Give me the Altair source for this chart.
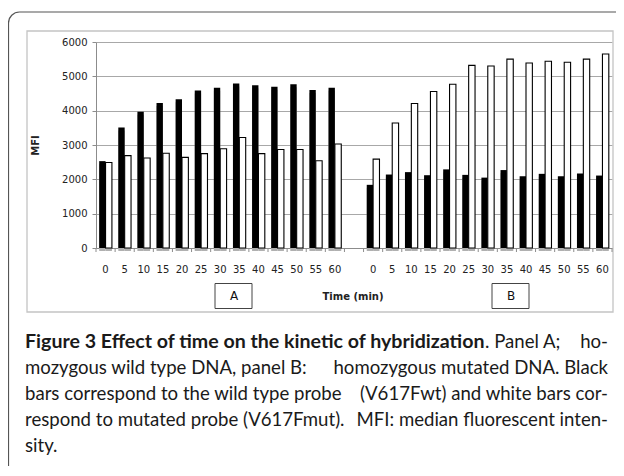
import altair as alt
import pandas as pd

# ---- data ----
times = [0, 5, 10, 15, 20, 25, 30, 35, 40, 45, 50, 55, 60]
panel_a_wt = [2530, 3510, 3970, 4220, 4330, 4590, 4670, 4790, 4740, 4700, 4770, 4600, 4670]
panel_a_mut = [2490, 2690, 2620, 2760, 2640, 2750, 2890, 3220, 2750, 2870, 2870, 2540, 3030]
panel_b_wt = [1840, 2140, 2210, 2120, 2290, 2130, 2050, 2270, 2090, 2160, 2090, 2170, 2110]
panel_b_mut = [2590, 3640, 4210, 4560, 4770, 5320, 5300, 5500, 5390, 5440, 5410, 5500, 5650]
y_ticks = [0, 1000, 2000, 3000, 4000, 5000, 6000]
probes = ["wt", "mut"]

caption_bold = "Figure 3 Effect of time on the kinetic of hybridization"
caption_after_bold = ". Panel A;"
caption_lines = [
    ("", "ho-"),
    ("mozygous wild type DNA, panel B:", "homozygous mutated DNA. Black"),
    ("bars correspond to the wild type probe", "(V617Fwt) and white bars cor-"),
    ("respond to mutated probe (V617Fmut).", "MFI: median fluorescent inten-"),
    ("sity.", ""),
]

rows = []
for panel, wt, mut in (("A", panel_a_wt, panel_a_mut), ("B", panel_b_wt, panel_b_mut)):
    for t, w, m in zip(times, wt, mut):
        rows.append({"cat": f"{panel} {t}", "probe": "wt", "mfi": w})
        rows.append({"cat": f"{panel} {t}", "probe": "mut", "mfi": m})
df = pd.DataFrame(rows)
domain = [f"A {t}" for t in times] + ["-"] + [f"B {t}" for t in times]
tick_df = pd.DataFrame({"cat": domain})
last_df = pd.DataFrame({"cat": [domain[-1]]})

W, H = 516, 206
AXIS_GRAY = "#8c8c8c"

x_scale = alt.Scale(domain=domain, paddingInner=0, paddingOuter=0)
x_axis = alt.Axis(
    labelExpr="slice(datum.value, 2)", ticks=False,
    labelPadding=16, labelAngle=0, domainColor=AXIS_GRAY,
    labelFont="DejaVu Sans", labelFontSize=10, labelColor="#222", grid=False,
    title=None,
)
x_enc = alt.X("cat:N", scale=x_scale, axis=x_axis)
xo_enc = alt.XOffset("probe:N", scale=alt.Scale(domain=probes, paddingInner=0, paddingOuter=0.5))
y_enc = alt.Y(
    "mfi:Q",
    scale=alt.Scale(domain=[0, 6000], nice=False),
    axis=alt.Axis(
        values=y_ticks, format="d", grid=True, gridColor="#a8a8a8", tickSize=4, tickColor=AXIS_GRAY,
        domainColor=AXIS_GRAY, labelFont="DejaVu Sans", labelFontSize=10, labelColor="#222",
        labelPadding=5, title="MFI", titleFont="DejaVu Sans", titleFontWeight="bold",
        titleFontSize=10, titlePadding=21, titleColor="#222",
    ),
)

base = alt.Chart(df).encode(x=x_enc, xOffset=xo_enc, y=y_enc)
shadow = base.mark_bar(color="#b0b0b0", xOffset=2.5, yOffset=3)
wt_bars = base.transform_filter(alt.datum.probe == "wt").mark_bar(color="black")
mut_bars = base.transform_filter(alt.datum.probe == "mut").mark_bar(
    fill="white", stroke="black", strokeWidth=1.1
)

# category-boundary tick marks of the x axis
ticks = alt.Chart(tick_df).mark_rule(color=AXIS_GRAY).encode(
    x=alt.X("cat:N", scale=x_scale, axis=x_axis, bandPosition=0),
    y=alt.value(H), y2=alt.value(H + 4),
)
tick_end = alt.Chart(last_df).mark_rule(color=AXIS_GRAY).encode(
    x=alt.X("cat:N", scale=x_scale, axis=x_axis, bandPosition=1),
    y=alt.value(H), y2=alt.value(H + 4),
)

one = alt.Data(values=[{"k": 1}])
PX, PY = 96, 42  # page position of the plot origin


def box(x1, y1, x2, y2, stroke, width, radius=0):
    return alt.Chart(one).mark_rect(
        fill="transparent", stroke=stroke, strokeWidth=width, cornerRadius=radius
    ).encode(
        x=alt.value(x1 - PX), x2=alt.value(x2 - PX),
        y=alt.value(y1 - PY), y2=alt.value(y2 - PY),
    )


def text(s, x, y, size, font="Lato", weight="normal", align="left", baseline="alphabetic", color="#1a1a1a"):
    return alt.Chart(one).mark_text(
        font=font, fontSize=size, fontWeight=weight, align=align,
        baseline=baseline, color=color,
    ).encode(x=alt.value(x - PX), y=alt.value(y - PY), text=alt.value(s))


outer = box(8.5, 12, 800, 700, "#555555", 1.2, radius=11)
inner = box(27, 31, 613, 312, "#c4c4c4", 1.3)
box_a = box(215, 283.5, 252, 308.5, "#444444", 1)
box_b = box(492, 283.5, 529, 308.5, "#444444", 1)
lab_a = text("A", 234, 296, 12, font="DejaVu Sans", align="center", baseline="middle", color="#111")
lab_b = text("B", 511, 296, 12, font="DejaVu Sans", align="center", baseline="middle", color="#111")
time_title = text("Time (min)", 353, 297, 10, font="DejaVu Sans", weight="bold",
                  align="center", baseline="middle", color="#222")

BOLD_SIZE = 19.6
CAP_SIZE = 18.6
LEFT, RIGHT = 25, 608
BOLD_END = 485
baselines = [348, 374, 400, 426, 452]
cap_layers = [
    text(caption_bold, LEFT, baselines[0], BOLD_SIZE, weight="bold"),
    text(caption_after_bold, BOLD_END, baselines[0], CAP_SIZE),
]
for (left, right), yb in zip(caption_lines, baselines):
    if left:
        cap_layers.append(text(left, LEFT, yb, CAP_SIZE))
    if right:
        cap_layers.append(text(right, RIGHT, yb, CAP_SIZE, align="right"))

chart = alt.layer(
    outer, inner, shadow, wt_bars, mut_bars, ticks, tick_end,
    box_a, box_b, lab_a, lab_b, time_title, *cap_layers
).properties(
    width=W, height=H,
    autosize=alt.AutoSizeParams(type="none"),
    padding={"left": 88, "top": 34, "right": 4, "bottom": 218},
).configure_view(stroke=None)

chart.save("out.html", embed_options={"renderer": "svg", "actions": False})
